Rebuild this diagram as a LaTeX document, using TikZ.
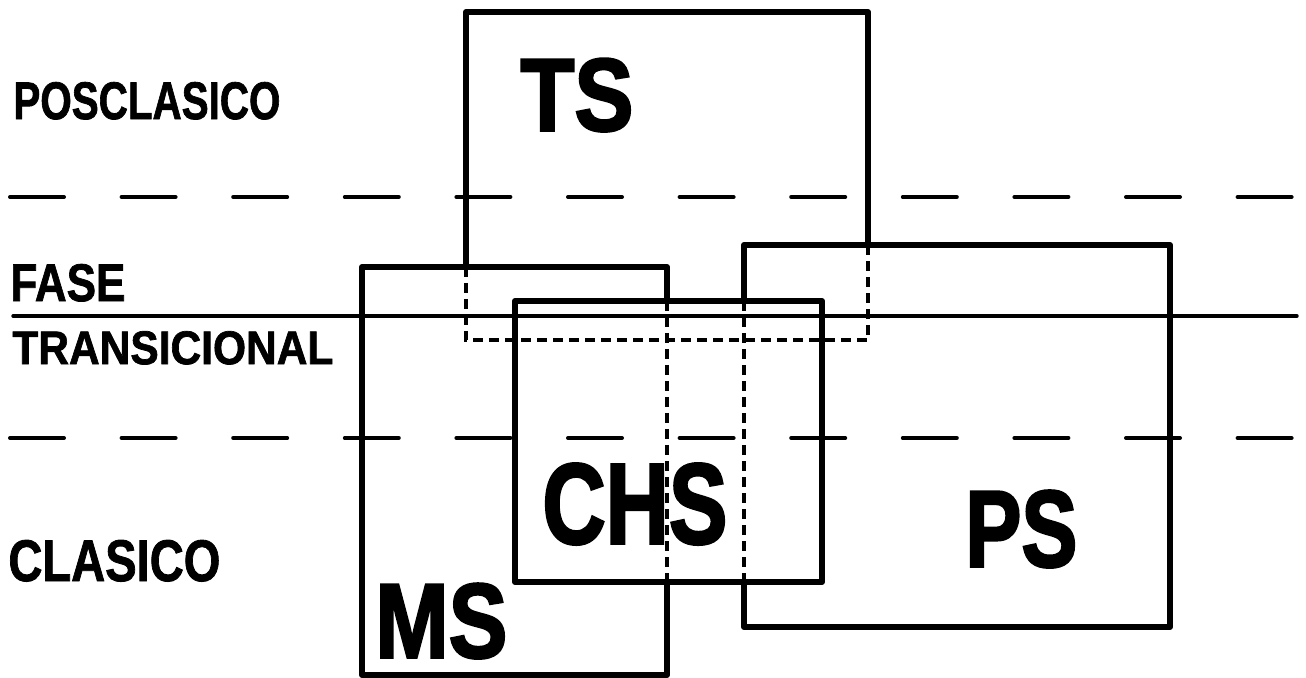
\documentclass[tikz,border=0pt]{standalone}
\usepackage{fontspec}
\setmainfont{Liberation Sans}
\newfontfamily\heavyfont[FakeBold=2.5]{Liberation Sans Bold}
\newfontfamily\labelfont[FakeBold=1.5]{Liberation Sans Bold}
\usepackage{graphicx}
\newcommand{\fitlab}[3]{\resizebox{#1}{#2}{\labelfont #3}}
\newcommand{\fitbig}[3]{\resizebox{#1}{#2}{\heavyfont #3}}
\tikzset{
  boxline/.style={line width=3pt, line join=round, line cap=round},
  hidden/.style={line width=2pt, dash pattern=on 5pt off 3pt},
  divider/.style={line width=1.7pt, line cap=round},
  period/.style={line width=2pt, line cap=round, dash pattern=on 27pt off 28.8pt},
  lab/.style={inner sep=0pt, anchor=south west},
}
\begin{document}
\begin{tikzpicture}[x=0.5pt,y=-0.5pt]
\useasboundingbox (0,0) rectangle (1306,678);

% horizontal period dividers
\draw[period] (10,197) -- (1297,197);
\draw[divider] (13,316) -- (1297,316);
\draw[period] (10,438) -- (1297,438);

% TS box (behind)
\draw[boxline] (466,267) -- (466,12) -- (868,12) -- (868,245);
\draw[hidden] (466,267) -- (466,340) -- (868,340) -- (868,245);

% MS box
\draw[boxline] (667,301) -- (667,267) -- (362,267) -- (362,675) -- (667,675) -- (667,582);
\draw[hidden] (667,301) -- (667,582);

% PS box
\draw[boxline] (744,301) -- (744,245) -- (1170,245) -- (1170,627) -- (744,627) -- (744,582);
\draw[hidden] (744,301) -- (744,582);

% CHS box (front)
\draw[boxline] (515,301) rectangle (822,582);

% period labels
\node[lab] (pos) at (13,120) {\fitlab{133.5pt}{18.5pt}{POSCLASICO}};
\node[lab] (fase) at (10,302) {\fitlab{57.5pt}{18.5pt}{FASE}};
\node[lab] (trans) at (12,365) {\fitlab{160.5pt}{16.5pt}{TRANSICIONAL}};
\node[lab] (clas) at (8,582) {\fitlab{106pt}{20.5pt}{CLASICO}};

% site labels
\node[lab] (ts) at (520,132) {\fitbig{56.5pt}{36pt}{TS}};
\node[lab] (chs) at (542,545) {\fitbig{92.5pt}{40pt}{CHS}};
\node[lab] (ms) at (375,659) {\fitbig{66pt}{37pt}{MS}};
\node[lab] (ps) at (965,568) {\fitbig{56pt}{38pt}{PS}};
\end{tikzpicture}
\end{document}
